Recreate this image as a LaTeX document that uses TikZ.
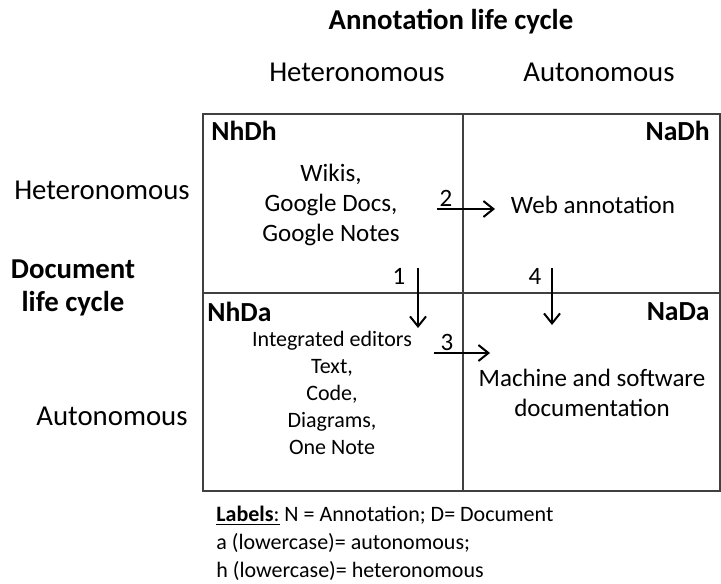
\documentclass[tikz,border=0pt]{standalone}
\usepackage{fontspec}
\setmainfont{Carlito}
\usetikzlibrary{positioning,arrows.meta}
\definecolor{gridrule}{RGB}{64,64,64}
\tikzset{
  colhead/.style={font=\fontsize{14.4}{17}\selectfont,inner sep=0pt},
  boldhead/.style={font=\bfseries\fontsize{14.4}{16.5}\selectfont,align=center,inner sep=0pt},
  tag/.style={font=\bfseries\fontsize{13.8}{16}\selectfont,inner sep=0pt},
  cell/.style={font=\fontsize{12.5}{15}\selectfont,align=center,inner sep=0pt},
  smallcell/.style={font=\fontsize{11}{13.4}\selectfont,align=center,inner sep=0pt},
  num/.style={font=\fontsize{12.5}{15}\selectfont,inner sep=0pt},
  legend/.style={font=\fontsize{11}{14}\selectfont,align=left,inner sep=0pt},
  gridline/.style={draw=gridrule,line width=0.75pt},
  flowarrow/.style={-{Straight Barb[length=5pt,width=8pt]},line width=1pt}
}
\begin{document}
\begin{tikzpicture}[x=0.5pt,y=-0.5pt]
  \useasboundingbox (0,0) rectangle (721,583);
  % grid
  \coordinate (tl) at (203,114);
  \coordinate (br) at (720,491);
  \coordinate (mt) at (463,114);
  \coordinate (mb) at (463,491);
  \coordinate (ml) at (203,293);
  \coordinate (mr) at (720,293);
  \draw[gridline] (tl) rectangle (br);
  \draw[gridline] (mt) -- (mb);
  \draw[gridline] (ml) -- (mr);
  % headings
  \node[boldhead] (annot) at (451,22) {Annotation life cycle};
  \node[colhead] (colh) at (357,72) {Heteronomous};
  \node[colhead] (cola) at (599,72) {Autonomous};
  \node[colhead] (rowh) at (102,190) {Heteronomous};
  \node[boldhead] (doc) at (73,288) {Document\\life cycle};
  \node[colhead] (rowa) at (112,416) {Autonomous};
  % cells
  \node[tag,anchor=west] (nhdh) at (211,131) {NhDh};
  \node[tag,anchor=east] (nadh) at (710,131) {NaDh};
  \node[tag,anchor=west] (nhda) at (207,312) {NhDa};
  \node[tag,anchor=east] (nada) at (710,312) {NaDa};
  \node[cell] (wikis) at (331,205) {Wikis,\\Google Docs,\\Google Notes};
  \node[cell] (web) at (593,205) {Web annotation};
  \node[smallcell] (editors) at (332,393) {Integrated editors\\Text,\\Code,\\Diagrams,\\One Note};
  \node[cell] (machine) at (592,393) {Machine and software\\documentation};
  % transitions
  \coordinate (s1) at (418,268); \coordinate (e1) at (418,328);
  \coordinate (s2) at (437,209); \coordinate (e2) at (495,209);
  \coordinate (s3) at (434,353); \coordinate (e3) at (490,353);
  \coordinate (s4) at (552,268); \coordinate (e4) at (552,325);
  \draw[flowarrow] (s1) -- (e1);
  \draw[flowarrow] (s2) -- (e2);
  \draw[flowarrow] (s3) -- (e3);
  \draw[flowarrow] (s4) -- (e4);
  \node[num] (n1) at (399,276) {1};
  \node[num] (n2) at (446,198) {2};
  \node[num] (n3) at (447,342) {3};
  \node[num] (n4) at (535,276) {4};
  % labels
  \node[legend,anchor=west] (key) at (216,543) {\underline{\textbf{Labels}:} N = Annotation; D= Document\\a (lowercase)= autonomous;\\h (lowercase)= heteronomous};
\end{tikzpicture}
\end{document}
